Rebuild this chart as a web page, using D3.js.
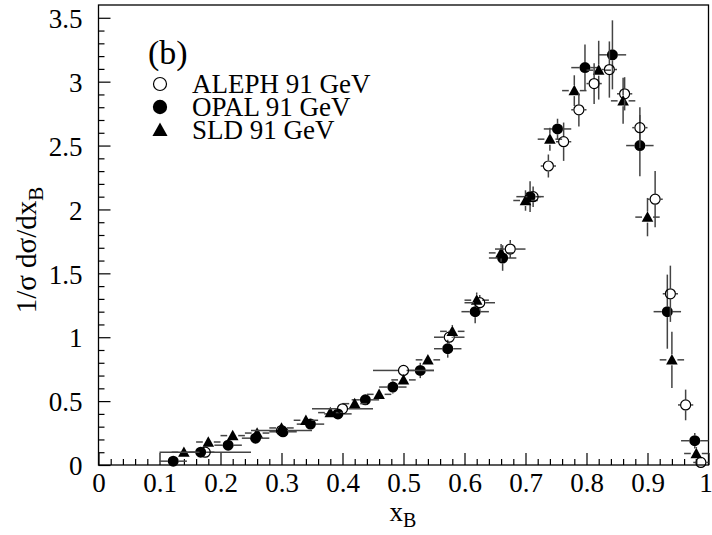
<!DOCTYPE html>
<html>
<head>
<meta charset="utf-8">
<script src="https://cdn.jsdelivr.net/npm/d3@7"></script>
<style>
  html, body { margin: 0; padding: 0; background: #fff; }
  svg { display: block; }
  text { font-family: "Liberation Serif", "Times New Roman", serif; fill: #000; }
</style>
</head>
<body>
<svg id="chart" width="712" height="535"></svg>
<script>
// ---------------- data ----------------
const alephX    = [0.175, 0.30, 0.40, 0.50, 0.575, 0.625, 0.675, 0.7125, 0.7375, 0.7625, 0.7875, 0.8125, 0.8375, 0.8625, 0.8875, 0.9125, 0.9375, 0.9625, 0.9875];
const alephXerr = [0.075, 0.05, 0.05, 0.05, 0.025, 0.025, 0.025, 0.0125, 0.0125, 0.0125, 0.0125, 0.0125, 0.0125, 0.0125, 0.0125, 0.0125, 0.0125, 0.0125, 0.0125];
const alephY    = [0.10, 0.27, 0.44, 0.74, 1.00, 1.27, 1.69, 2.10, 2.34, 2.53, 2.78, 2.985, 3.095, 2.905, 2.64, 2.08, 1.34, 0.47, 0.02];
const alephYerr = [0.02, 0.02, 0.03, 0.04, 0.05, 0.06, 0.07, 0.08, 0.09, 0.15, 0.13, 0.16, 0.22, 0.13, 0.16, 0.22, 0.22, 0.12, 0.03];

const opalX     = [0.1225, 0.1675, 0.2125, 0.2575, 0.3025, 0.3475, 0.3925, 0.4375, 0.4825, 0.5275, 0.5725, 0.6175, 0.6625, 0.7075, 0.7525, 0.7975, 0.8425, 0.8875, 0.9325, 0.9775];
const opalXerr  = 0.0225;
const opalY     = [0.03, 0.10, 0.155, 0.21, 0.26, 0.32, 0.40, 0.51, 0.61, 0.74, 0.91, 1.20, 1.62, 2.10, 2.63, 3.11, 3.21, 2.50, 1.20, 0.19];
const opalYerr  = [0.02, 0.02, 0.02, 0.02, 0.03, 0.03, 0.04, 0.04, 0.05, 0.06, 0.07, 0.09, 0.10, 0.12, 0.08, 0.18, 0.27, 0.24, 0.29, 0.06];

const sldX      = [0.14, 0.18, 0.22, 0.26, 0.30, 0.34, 0.38, 0.42, 0.46, 0.50, 0.54, 0.58, 0.62, 0.66, 0.70, 0.74, 0.78, 0.82, 0.86, 0.90, 0.94, 0.98];
const sldXerr   = 0.02;
const sldY      = [0.10, 0.18, 0.23, 0.25, 0.29, 0.35, 0.41, 0.48, 0.553, 0.666, 0.823, 1.046, 1.29, 1.66, 2.07, 2.55, 2.93, 3.09, 2.85, 1.94, 0.823, 0.09];
const sldYerr   = [0.02, 0.02, 0.02, 0.02, 0.02, 0.02, 0.02, 0.03, 0.03, 0.03, 0.04, 0.05, 0.06, 0.07, 0.08, 0.09, 0.12, 0.23, 0.18, 0.15, 0.22, 0.05];

const xTickValues = [0, 0.1, 0.2, 0.3, 0.4, 0.5, 0.6, 0.7, 0.8, 0.9, 1];
const xTickLabels = ["0", "0.1", "0.2", "0.3", "0.4", "0.5", "0.6", "0.7", "0.8", "0.9", "1"];
const yTickValues = [0, 0.5, 1, 1.5, 2, 2.5, 3, 3.5];
const yTickLabels = ["0", "0.5", "1", "1.5", "2", "2.5", "3", "3.5"];
const legendLabels = ["ALEPH 91 GeV", "OPAL 91 GeV", "SLD 91 GeV"];
const panelLabel = "(b)";

// ---------------- layout ----------------
const svg = d3.select("#chart");
const L = 98.5, R = 708.5, T = 5, B = 465;
const x = d3.scaleLinear().domain([0, 1]).range([L, R]);
const y = d3.scaleLinear().domain([0, 3.6]).range([B, T]);

svg.append("rect").attr("x", L).attr("y", T).attr("width", R - L).attr("height", B - T)
  .attr("fill", "none").attr("stroke", "#000").attr("stroke-width", 1.3);

const xMinor = d3.range(0, 50).map(i => i * 0.02).filter(v => Math.round(v * 1000) % 100 !== 0);
const yMinor = d3.range(0, 36).map(i => i * 0.1).filter(v => Math.round(v * 100) % 50 !== 0);

const gx = svg.append("g").attr("transform", `translate(0,${B})`)
  .call(d3.axisBottom(x).tickValues(xTickValues).tickSize(-12).tickPadding(8).tickFormat((d, i) => xTickLabels[i]));
const gxm = svg.append("g").attr("transform", `translate(0,${B})`)
  .call(d3.axisBottom(x).tickValues(xMinor).tickSize(-6).tickFormat(""));
const gy = svg.append("g").attr("transform", `translate(${L},0)`)
  .call(d3.axisLeft(y).tickValues(yTickValues).tickSize(-12).tickPadding(16).tickFormat((d, i) => yTickLabels[i]));
const gym = svg.append("g").attr("transform", `translate(${L},0)`)
  .call(d3.axisLeft(y).tickValues(yMinor).tickSize(-6).tickFormat(""));

[gx, gxm, gy, gym].forEach(g => {
  g.select(".domain").remove();
  g.selectAll("line").attr("stroke", "#000").attr("stroke-width", 1.2);
  g.selectAll("text").attr("font-family", "Liberation Serif, serif").attr("font-size", 27).attr("fill", "#000");
});
gx.selectAll("text").attr("dy", "0.71em");
gx.selectAll("text").filter((d, i) => i === xTickValues.length - 1).attr("dx", -3);
gy.selectAll("text").attr("dy", "0.36em");

// axis titles
const xt = svg.append("text").attr("x", 403).attr("y", 521).attr("font-size", 27).attr("text-anchor", "middle");
xt.append("tspan").text("x");
xt.append("tspan").attr("font-size", 20).attr("dy", 6).text("B");

const yt = svg.append("text").attr("transform", "translate(36,250) rotate(-90)")
  .attr("font-size", 29).attr("text-anchor", "middle");
yt.append("tspan").text("1/σ  dσ/dx");
yt.append("tspan").attr("font-size", 21).attr("dy", 7).text("B");

// ---------------- data points ----------------
const R_MARK = 5.5;
const errColor = "#444";
function drawMarker(g, cx, cy, kind, sc) {
  const k = sc || 1;
  if (kind === "open") {
    g.append("circle").attr("cx", cx).attr("cy", cy).attr("r", (R_MARK - 0.5) * k)
      .attr("fill", "none").attr("stroke", "#000").attr("stroke-width", 1.2);
  } else if (kind === "filled") {
    g.append("circle").attr("cx", cx).attr("cy", cy).attr("r", R_MARK * k).attr("fill", "#000");
  } else {
    const s = 5.8 * k;
    g.append("path").attr("d", `M${cx},${cy - s} L${cx + s},${cy + s * 0.8} L${cx - s},${cy + s * 0.8} Z`).attr("fill", "#000");
  }
}
function drawSeries(xs, xerr, ys, yerr, kind) {
  const g = svg.append("g");
  xs.forEach((xv, i) => {
    const cx = x(xv), cy = y(ys[i]);
    const xe = Array.isArray(xerr) ? xerr[i] : xerr;
    const xl = x(xv - xe), xr = x(xv + xe);
    const yTop = y(ys[i] + yerr[i]), yBot = y(Math.max(0, ys[i] - yerr[i]));
    const gap = R_MARK;
    const segs = [];
    if (cx - xl > gap) segs.push([xl, cy, cx - gap, cy]);
    if (xr - cx > gap) segs.push([cx + gap, cy, Math.min(xr, R), cy]);
    if (cy - yTop > gap) segs.push([cx, yTop, cx, cy - gap]);
    if (yBot - cy > gap) segs.push([cx, cy + gap, cx, Math.min(yBot, B)]);
    segs.forEach(s => g.append("line").attr("x1", s[0]).attr("y1", s[1]).attr("x2", s[2]).attr("y2", s[3])
      .attr("stroke", errColor).attr("stroke-width", 1.5));
  });
  xs.forEach((xv, i) => drawMarker(g, x(xv), y(ys[i]), kind));
}
drawSeries(opalX, opalXerr, opalY, opalYerr, "filled");
drawSeries(sldX, sldXerr, sldY, sldYerr, "tri");
drawSeries(alephX, alephXerr, alephY, alephYerr, "open");

// ---------------- legend ----------------
svg.append("text").attr("x", 148).attr("y", 64).attr("font-size", 34).text(panelLabel);
const kinds = ["open", "filled", "tri"];
const lg = svg.append("g");
legendLabels.forEach((lab, i) => {
  const ly = 84 + i * 23;
  drawMarker(lg, 160, ly, kinds[i], 1.3);
  lg.append("text").attr("x", 192).attr("y", ly).attr("dy", "0.35em").attr("font-size", 27).text(lab);
});
</script>
</body>
</html>
